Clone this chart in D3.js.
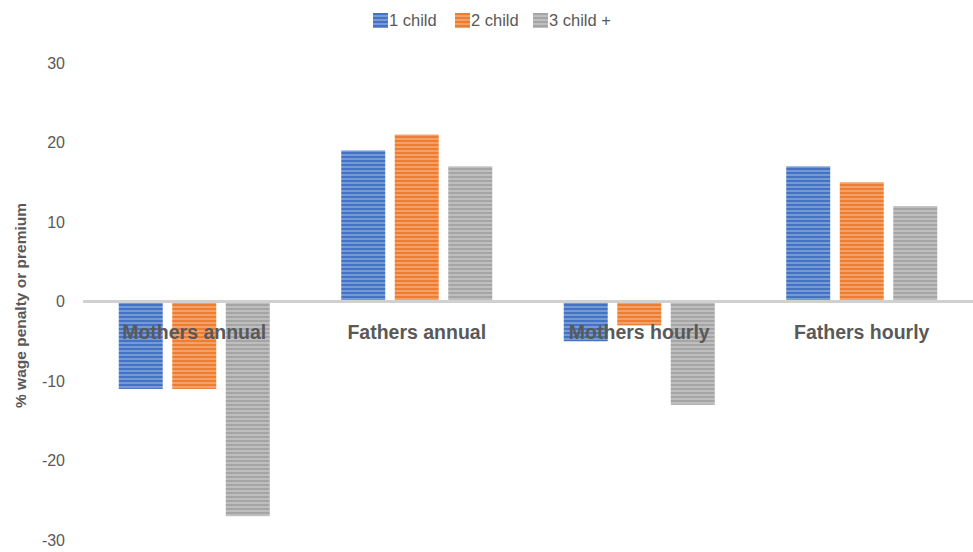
<!DOCTYPE html>
<html>
<head>
<meta charset="utf-8">
<script src="https://cdn.jsdelivr.net/npm/d3@7"></script>
<style>
  html, body { margin: 0; padding: 0; background: #fff; }
  svg { display: block; font-family: "Liberation Sans", Arial, sans-serif; }
</style>
</head>
<body>
<svg id="chart" width="973" height="552"></svg>
<script>
// Wage penalty / premium by parenthood and number of children
const categories = ["Mothers annual", "Fathers annual", "Mothers hourly", "Fathers hourly"];
const seriesNames = ["1 child", "2 child", "3 child +"];
const oneChild = [-11, 19, -5, 17];
const twoChild = [-11, 21, -3, 15];
const threePlus = [-27, 17, -13, 12];
const yTicks = [-30, -20, -10, 0, 10, 20, 30];
const colors = ["#4472C4", "#ED7D31", "#A5A5A5"];

const seriesValues = [oneChild, twoChild, threePlus];
const rows = categories.map((c, i) => ({
  category: c,
  values: seriesNames.map((s, j) => ({ series: s, idx: j, value: seriesValues[j][i] }))
}));

const svg = d3.select("#chart");
const plot = { left: 83, right: 973, top: 63, bottom: 540 };

// Striped fills for the bars
const defs = svg.append("defs");
colors.forEach((col, j) => {
  const p = defs.append("pattern")
    .attr("id", "stripe" + j)
    .attr("patternUnits", "userSpaceOnUse")
    .attr("width", 8).attr("height", 4);
  p.append("rect").attr("width", 8).attr("height", 4).attr("fill", col);
  p.append("rect").attr("y", 2.5).attr("width", 8).attr("height", 1)
    .attr("fill", "#fff").attr("opacity", 0.55);
});

const y = d3.scaleLinear().domain([-30, 30]).range([plot.bottom, plot.top]);
const x0 = d3.scaleBand().domain(categories).range([plot.left, plot.right]).paddingInner(0).paddingOuter(0);
const x1 = d3.scaleBand().domain(seriesNames).range([0, x0.bandwidth()]).paddingInner(0.178).paddingOuter(0.668);

// Y axis labels (no axis line)
const yAxis = d3.axisLeft(y).tickValues(yTicks).tickSize(0).tickPadding(0).tickFormat(d => String(d));
const yg = svg.append("g").attr("transform", `translate(65,0)`).call(yAxis);
yg.select(".domain").remove();
yg.selectAll("text")
  .attr("fill", "#595959")
  .style("font-size", "16px")
  .style("font-family", "'Liberation Sans', Arial, sans-serif");

// Y axis title
svg.append("text")
  .attr("transform", `translate(26,${y(0) + 4}) rotate(-90)`)
  .attr("text-anchor", "middle")
  .attr("fill", "#595959")
  .style("font-size", "15.5px")
  .style("font-weight", "bold")
  .text("% wage penalty or premium");

// Bars
const groups = svg.append("g").selectAll("g").data(rows).join("g")
  .attr("transform", d => `translate(${x0(d.category)},0)`);
groups.selectAll("rect").data(d => d.values).join("rect")
  .attr("x", d => x1(d.series))
  .attr("width", x1.bandwidth())
  .attr("y", d => Math.min(y(d.value), y(0)))
  .attr("height", d => Math.abs(y(d.value) - y(0)))
  .attr("fill", d => `url(#stripe${d.idx})`);

// Zero line
svg.append("line")
  .attr("x1", plot.left).attr("x2", plot.right)
  .attr("y1", y(0)).attr("y2", y(0))
  .attr("stroke", "#D0D0D0").attr("stroke-width", 3);

// Category labels, drawn over the bars
svg.append("g").selectAll("text").data(categories).join("text")
  .attr("x", d => x0(d) + x0.bandwidth() / 2)
  .attr("y", y(0) + 37)
  .attr("text-anchor", "middle")
  .attr("fill", "#595959")
  .style("font-size", "19.5px")
  .style("font-weight", "bold")
  .text(d => d);

// Legend
const legendItems = [
  { name: seriesNames[0], x: 373 },
  { name: seriesNames[1], x: 455 },
  { name: seriesNames[2], x: 533 }
];
const lg = svg.append("g").selectAll("g").data(legendItems).join("g")
  .attr("transform", d => `translate(${d.x},13)`);
lg.append("rect").attr("width", 15).attr("height", 15)
  .attr("fill", (d, i) => `url(#stripe${i})`);
lg.append("text").attr("x", 16).attr("y", 13)
  .attr("fill", "#595959")
  .style("font-size", "16.5px")
  .text(d => d.name);
</script>
</body>
</html>
